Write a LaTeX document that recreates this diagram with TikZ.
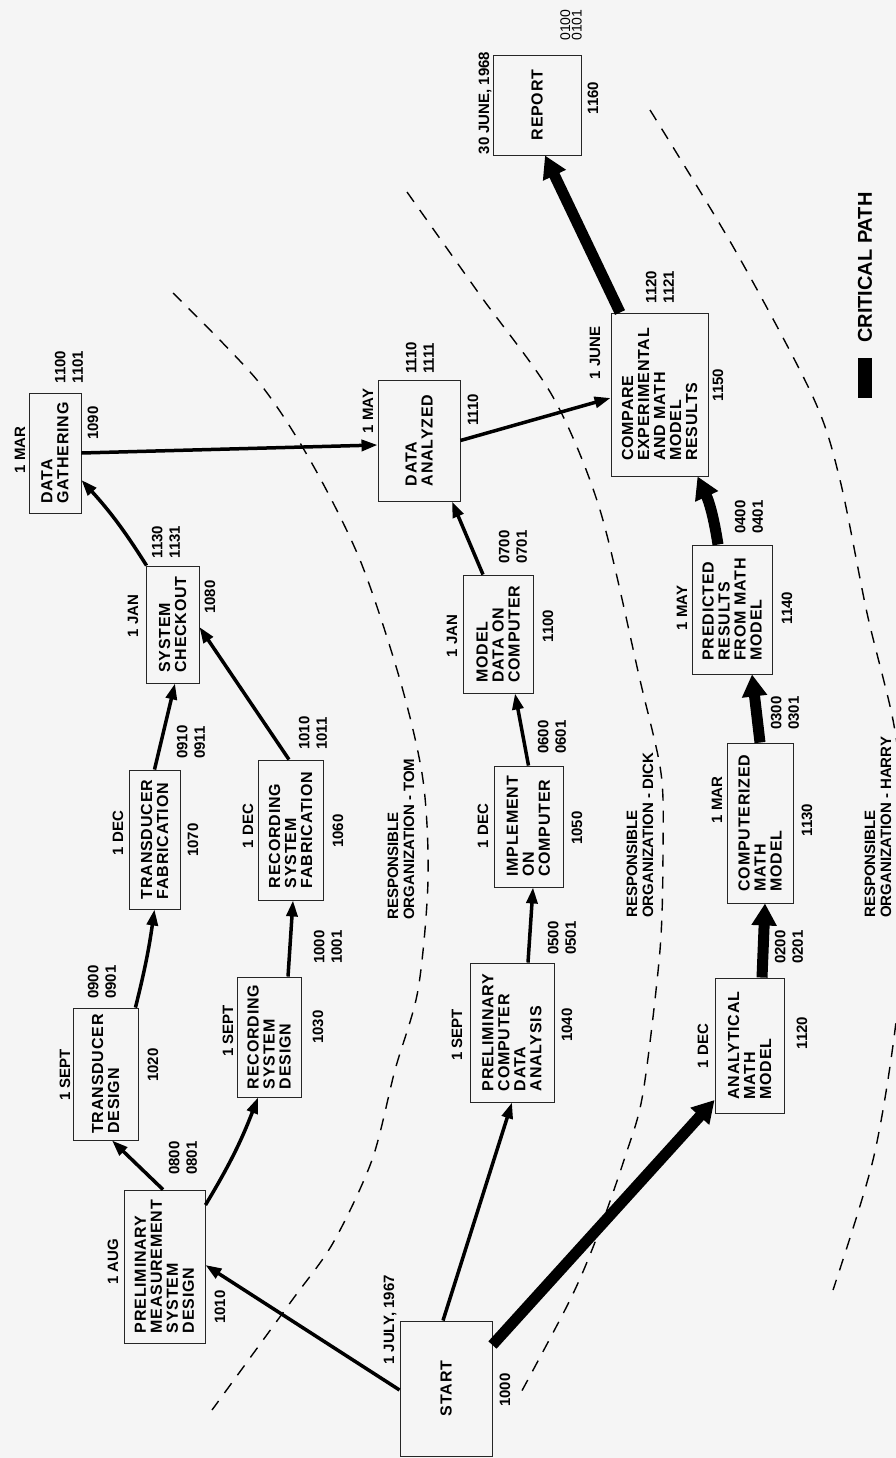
\documentclass[tikz,border=0pt]{standalone}
\usepackage{fontspec}
\usetikzlibrary{arrows.meta}
\newfontfamily\boxfont[LetterSpace=5]{Liberation Sans}
\newfontfamily\labfont{Liberation Sans}
\tikzset{
  task/.style={draw=black!85, line width=.9pt, rotate=90, align=left, inner sep=0pt,
    font=\boxfont\bfseries\fontsize{16}{16}\selectfont},
  lab/.style={rotate=90, inner sep=0pt, align=left,
    font=\labfont\bfseries\fontsize{15}{17.5}\selectfont},
  org/.style={rotate=90, inner sep=0pt, anchor=west, align=left,
    font=\labfont\bfseries\fontsize{15}{16}\selectfont},
  link/.style={line width=3.5pt, -{Triangle[length=16pt,width=11pt]}},
  crit/.style={line width=11pt, -{Triangle[length=22pt,width=24pt]}},
  zone/.style={line width=1.4pt, dash pattern=on 12pt off 10pt}
}
\begin{document}
\begin{tikzpicture}[x=1pt,y=1pt]
      \useasboundingbox (0,0) rectangle (896,-1458);
      \fill[black!4] (0,0) rectangle (896,-1458);
      \clip (0,0) rectangle (896,-1458);

      %%zones
      \draw[zone] plot[smooth] coordinates {(173,-293) (257,-380) (310,-460) (360,-560)
        (400,-680) (423,-780) (428,-880) (418,-990) (395,-1070) (372,-1160) (333,-1243)
        (290,-1303) (212,-1410)};
      \draw[zone] plot[smooth] coordinates {(407,-192) (480,-295) (553,-397) (600,-510)
        (640,-680) (661,-773) (663,-850) (660,-950) (643,-1093) (625,-1157) (597,-1237)
        (570,-1300) (518,-1398)};
      \draw[zone] plot[smooth] coordinates {(650,-110) (735,-250) (813,-397) (840,-480)
        (867,-613) (893,-720) (903,-800) (906,-900) (895,-1030) (873,-1160) (833,-1290)};

      \node[org] (tom) at (401,-920) {RESPONSIBLE\\ORGANIZATION - TOM};
      \node[org] (dick) at (640,-918) {RESPONSIBLE\\ORGANIZATION - DICK};
      \node[org] (harry) at (878,-918) {RESPONSIBLE\\ORGANIZATION - HARRY};

      %%start
      \node[task, minimum width=135pt, minimum height=92pt] (start) at (446,-1388.5) {START};
        \node[lab] (startd) at (390,-1320) {1 JULY, 1967};
        \node[lab] (starti) at (505,-1390) {1000};

      %%L1 tom
      \node[task, minimum width=153pt, minimum height=81pt] (pmsd) at (164.5,-1266.5)
        {PRELIMINARY\\MEASUREMENT\\SYSTEM\\DESIGN};
        \node[lab] (pmsdd) at (113,-1262) {1 AUG};
        \node[lab] (pmsdi) at (220,-1307) {1010};
        \node[lab] (pmsdc) at (183,-1158) {0800\\0801};
      \node[task, minimum width=132pt, minimum height=65pt] (tdes) at (105.5,-1074)
        {TRANSDUCER\\DESIGN};
        \node[lab] (tdesd) at (65,-1075) {1 SEPT};
        \node[lab] (tdesi) at (153,-1065) {1020};
        \node[lab] (tdesc) at (102,-982) {0900\\0901};
      \node[task, minimum width=139pt, minimum height=51pt] (tfab) at (154.5,-839.5)
        {TRANSDUCER\\FABRICATION};
        \node[lab] (tfabd) at (118,-833) {1 DEC};
        \node[lab] (tfabi) at (193,-840) {1070};
        \node[lab] (tfabc) at (191,-742) {0910\\0911};
      \node[task, minimum width=120pt, minimum height=64pt] (rdes) at (269,-1037)
        {RECORDING\\SYSTEM\\DESIGN};
        \node[lab] (rdesd) at (228,-1031) {1 SEPT};
        \node[lab] (rdesi) at (318,-1027) {1030};
        \node[lab] (rdesc) at (328,-947) {1000\\1001};
      \node[task, minimum width=140pt, minimum height=65pt] (rfab) at (290.5,-830)
        {RECORDING\\SYSTEM\\FABRICATION};
        \node[lab] (rfabd) at (248,-826) {1 DEC};
        \node[lab] (rfabi) at (338,-831) {1060};
        \node[lab] (rfabc) at (313,-733) {1010\\1011};
      \node[task, minimum width=117pt, minimum height=53pt] (chk) at (172.5,-624.5)
        {SYSTEM\\CHECKOUT};
        \node[lab] (chkd) at (133,-616) {1 JAN};
        \node[lab] (chki) at (210,-597) {1080};
        \node[lab] (chkc) at (166,-542) {1130\\1131};
      \node[task, minimum width=120pt, minimum height=52pt] (gath) at (55,-453)
        {DATA\\GATHERING};
        \node[lab] (gathd) at (20,-450) {1 MAR};
        \node[lab] (gathi) at (93,-423) {1090};
        \node[lab] (gathc) at (69,-367) {1100\\1101};

      %%L2 dick
      \node[task, minimum width=121pt, minimum height=82pt] (ana) at (419,-440.5)
        {DATA\\ANALYZED};
        \node[lab] (anad) at (368,-411) {1 MAY};
        \node[lab] (anai) at (473,-410) {1110};
        \node[lab] (anac) at (420,-358) {1110\\1111};
      \node[task, minimum width=139pt, minimum height=84pt] (pcda) at (512,-1032.5)
        {PRELIMINARY\\COMPUTER\\DATA\\ANALYSIS};
        \node[lab] (pcdad) at (457,-1035) {1 SEPT};
        \node[lab] (pcdai) at (567,-1025) {1040};
        \node[lab] (pcdac) at (562,-938) {0500\\0501};
      \node[task, minimum width=121pt, minimum height=69pt] (impl) at (528.5,-826.5)
        {IMPLEMENT\\ON\\COMPUTER};
        \node[lab] (impld) at (483,-826) {1 DEC};
        \node[lab] (impli) at (577,-828) {1050};
        \node[lab] (implc) at (552,-737) {0600\\0601};
      \node[task, minimum width=118pt, minimum height=70pt] (mdc) at (498,-634)
        {MODEL\\DATA ON\\COMPUTER};
        \node[lab] (mdcd) at (452,-636) {1 JAN};
        \node[lab] (mdci) at (548,-626) {1100};
        \node[lab] (mdcc) at (513,-547) {0700\\0701};

      %%L3 harry
      \node[task, minimum width=135pt, minimum height=69pt] (amm) at (749.5,-1045.5)
        {ANALYTICAL\\MATH\\MODEL};
        \node[lab] (ammd) at (703,-1046) {1 DEC};
        \node[lab] (ammi) at (802,-1033) {1120};
        \node[lab] (ammc) at (789,-947) {0200\\0201};
      \node[task, minimum width=160pt, minimum height=66pt] (cmm) at (760,-823)
        {COMPUTERIZED\\MATH\\MODEL};
        \node[lab] (cmmd) at (717,-800) {1 MAR};
        \node[lab] (cmmi) at (807,-820) {1130};
        \node[lab] (cmmc) at (785,-713) {0300\\0301};
      \node[task, minimum width=129pt, minimum height=80pt] (prm) at (732,-609.5)
        {PREDICTED\\RESULTS\\FROM MATH\\MODEL};
        \node[lab] (prmd) at (682,-608) {1 MAY};
        \node[lab] (prmi) at (787,-608) {1140};
        \node[lab] (prmc) at (749,-517) {0400\\0401};
      \node[task, minimum width=163pt, minimum height=97pt] (cmp) at (659.5,-394.5)
        {COMPARE\\EXPERIMENTAL\\AND MATH\\MODEL\\RESULTS};
        \node[lab] (cmpd) at (595,-353) {1 JUNE};
        \node[lab] (cmpi) at (718,-385) {1150};
        \node[lab] (cmpc) at (660,-287) {1120\\1121};

      %%end
      \node[task, minimum width=100pt, minimum height=88pt] (rep) at (537,-105) {REPORT};
        \node[lab] (repd) at (485,-103) {30 JUNE, 1968};
        \node[lab] (repi) at (593,-98) {1160};
        \node[lab, font=\labfont\fontsize{14}{11.5}\selectfont] (repc) at (571,-25) {0100\\0101};

      %%links
      \draw[link] ([yshift=-1.5pt]start.north) -- ([yshift=1.5pt]pmsd.south);
      \draw[link] ([xshift=-3pt]start.east) -- (pcda.west);
      \draw[link] ([xshift=-1.5pt]pmsd.east) -- ([xshift=6.5pt]tdes.west);
      \draw[link] ([yshift=61.5pt]pmsd.south) to[bend right=5] ([xshift=-11pt]rdes.west);
      \draw[link] ([xshift=-3pt]tdes.south east) to[bend right=3] (tfab.west);
      \draw[link] (tfab.east) -- ([xshift=2.5pt]chk.west);
      \draw[link] ([xshift=19pt]rdes.east) -- ([xshift=2.5pt]rfab.west);
      \draw[link] ([xshift=-1.5pt]rfab.east) -- ([yshift=-2.5pt]chk.south);
      \draw[link] ([xshift=1pt]chk.north east) to[bend right=5] ([yshift=-27pt]gath.south);
      \draw[link] (gath.south) -- ([yshift=-4.5pt]ana.north);
      \draw[link] ([xshift=16pt]pcda.east) -- ([xshift=4.5pt]impl.west);
      \draw[link] (impl.east) -- ([xshift=17pt]mdc.west);
      \draw[link] ([xshift=-15pt]mdc.east) -- ([xshift=33pt]ana.west);
      \draw[link] (ana.south) -- ([yshift=-3.5pt]cmp.north);

      %%critical
      \draw[crit] ([yshift=43.5pt]start.south) -- ([yshift=-54.5pt]amm.north);
      \draw[crit] ([xshift=12.5pt]amm.east) -- ([xshift=5pt]cmm.west);
      \draw[crit] (cmm.east) -- ([xshift=20pt]prm.west);
      \draw[crit] ([xshift=-14pt]prm.east) to[bend right=8] ([xshift=38pt]cmp.west);
      \draw[crit] ([xshift=-39.5pt]cmp.east) -- ([xshift=8pt]rep.west);

      %%legend
      \node[fill=black, rotate=90, inner sep=0pt, minimum width=40pt, minimum height=14pt]
        (legbar) at (865,-378) {};
      \node[org, font=\labfont\bfseries\fontsize{20}{20}\selectfont] (legtxt) at (865,-343)
        {CRITICAL PATH};
\end{tikzpicture}
\end{document}
